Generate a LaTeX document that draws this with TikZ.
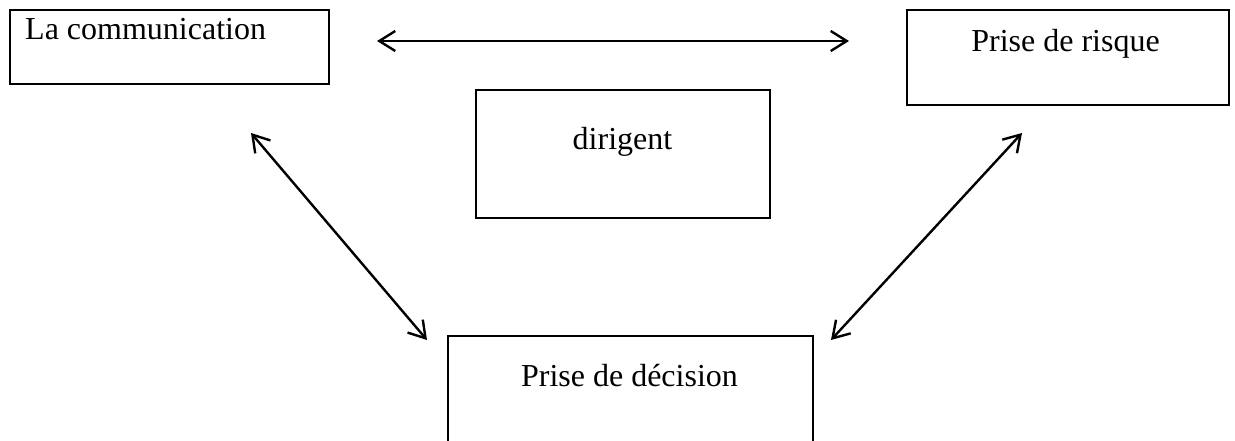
\documentclass[tikz,border=0pt]{standalone}
\usepackage{fontspec}
\setmainfont{Liberation Serif}
\usetikzlibrary{arrows.meta}
\begin{document}
\begin{tikzpicture}[x=1pt,y=-1pt,
  box/.style={draw=black,line width=2.6pt,rectangle,inner sep=0pt},
  lbl/.style={anchor=base,inner sep=0pt,font=\fontsize{32}{38}\selectfont},
  link/.style={line width=2.4pt,{Straight Barb[length=16pt,width=20pt,line width=2.4pt]}-{Straight Barb[length=16pt,width=20pt,line width=2.4pt]}}]
\useasboundingbox (0,0) rectangle (1235,441);
\clip (0,0) rectangle (1235,441);
\node[box,minimum width=319pt,minimum height=74pt] (comm) at (169.5,47) {};
\node[lbl,anchor=base west] (commtxt) at (25,40) {La communication};
\node[box,minimum width=322pt,minimum height=95pt] (risk) at (1068,57.5) {};
\node[lbl] (risktxt) at (1065.5,52) {Prise de risque};
\node[box,minimum width=294pt,minimum height=128pt] (dir) at (623,154) {};
\node[lbl] (dirtxt) at (622.5,150) {dirigent};
\node[box,minimum width=365pt,minimum height=140pt] (dec) at (630.5,406) {};
\node[lbl] (dectxt) at (629.5,386) {Prise de décision};
\coordinate (h1) at (377,41);
\coordinate (h2) at (849,41);
\coordinate (l1) at (251,133);
\coordinate (l2) at (427,340);
\coordinate (r1) at (1022,133);
\coordinate (r2) at (831,340);
\draw[link] (h1) -- (h2);
\draw[link] (l1) -- (l2);
\draw[link] (r1) -- (r2);
\end{tikzpicture}
\end{document}
